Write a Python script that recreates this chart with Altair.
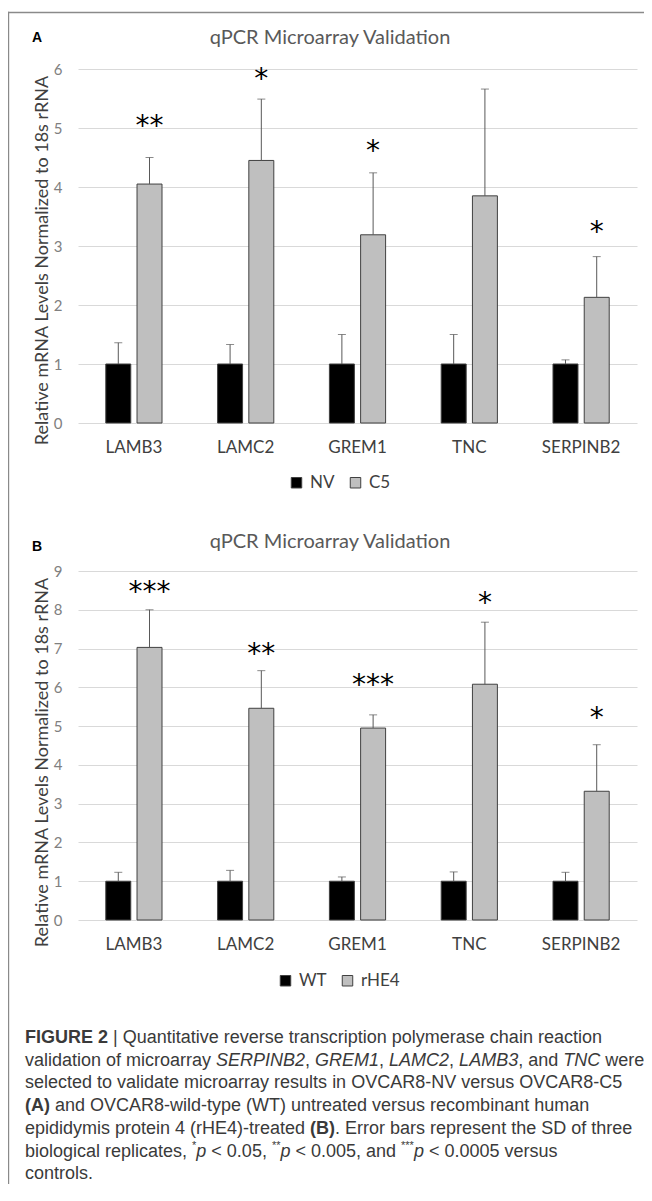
import altair as alt
import pandas as pd

# ---------------- data ----------------
categories = ["LAMB3", "LAMC2", "GREM1", "TNC", "SERPINB2"]

a_groups = ["NV", "C5"]
a_nv = [1.0, 1.0, 1.0, 1.0, 1.0]
a_nv_err = [0.36, 0.33, 0.50, 0.50, 0.07]
a_c5 = [4.05, 4.45, 3.19, 3.85, 2.13]
a_c5_err = [0.45, 1.04, 1.05, 1.81, 0.69]
a_stars = ["**", "*", "*", "", "*"]
a_star_y = [5.14, 5.93, 4.71, 0, 3.34]
a_ticks = [0, 1, 2, 3, 4, 5, 6]

b_groups = ["WT", "rHE4"]
b_wt = [1.0, 1.0, 1.0, 1.0, 1.0]
b_wt_err = [0.23, 0.28, 0.11, 0.24, 0.23]
b_rhe4 = [7.03, 5.46, 4.95, 6.08, 3.32]
b_rhe4_err = [0.97, 0.97, 0.34, 1.60, 1.20]
b_stars = ["***", "**", "***", "*", "*"]
b_star_y = [8.62, 7.02, 6.22, 8.32, 5.36]
b_ticks = [0, 1, 2, 3, 4, 5, 6, 7, 8, 9]

title_text = "qPCR Microarray Validation"
y_title = "Relative mRNA Levels Normalized to 18s rRNA"

caption_lines = [
    [("FIGURE 2", "b"), (" | Quantitative reverse transcription polymerase chain reaction", "n")],
    [("validation of microarray ", "n"), ("SERPINB2", "i"), (", ", "n"), ("GREM1", "i"), (", ", "n"),
     ("LAMC2", "i"), (", ", "n"), ("LAMB3", "i"), (", and ", "n"), ("TNC", "i"), (" were", "n")],
    [("selected to validate microarray results in OVCAR8-NV versus OVCAR8-C5", "n")],
    [("(A)", "b"), (" and OVCAR8-wild-type (WT) untreated versus recombinant human", "n")],
    [("epididymis protein 4 (rHE4)-treated ", "n"), ("(B)", "b"), (". Error bars represent the SD of three", "n")],
    [("biological replicates, ", "n"), ("*", "s"), ("p", "i"), (" < 0.05, ", "n"), ("**", "s"), ("p", "i"),
     (" < 0.005, and ", "n"), ("***", "s"), ("p", "i"), (" < 0.0005 versus", "n")],
    [("controls.", "n")],
]

# ---------------- text metrics (Arial/Liberation Sans widths, 1/1000 em) ----------------
REG = dict(zip("abcdefghijklmnopqrstuvwxyz",
               [556, 556, 500, 556, 556, 278, 556, 556, 222, 222, 500, 222, 833, 556, 556, 556, 556, 333, 500, 278, 556, 500, 722, 500, 500, 500]))
REG.update(zip("ABCDEFGHIJKLMNOPQRSTUVWXYZ",
               [667, 667, 722, 722, 667, 611, 778, 722, 278, 500, 667, 556, 833, 722, 778, 667, 778, 722, 667, 611, 722, 667, 944, 667, 667, 611]))
REG.update({c: 556 for c in "0123456789"})
REG.update({" ": 278, "(": 333, ")": 333, "*": 389, ",": 278, "-": 333, ".": 278, "<": 584, "|": 260})
BOLD = dict(REG)
BOLD.update(zip("ABCDEFGHIJKLMNOPQRSTUVWXYZ",
                [722, 722, 722, 722, 667, 611, 778, 722, 278, 556, 722, 611, 833, 722, 778, 667, 778, 722, 667, 611, 722, 667, 944, 667, 667, 611]))

CAP_SIZE = 18
SUP_SIZE = 11


def text_width(s, style):
    table = BOLD if style == "b" else REG
    size = SUP_SIZE if style == "s" else CAP_SIZE
    return sum(table.get(ch, 556) for ch in s) / 1000.0 * size


H = 1166
cap_rows = []
for li, segs in enumerate(caption_lines):
    cx = -53.0
    cy = 1030.0 + 22.7 * li
    for s, style in segs:
        lead = s[: len(s) - len(s.lstrip())]
        if s.strip():
            cap_rows.append(dict(px=cx + text_width(lead, style), py=cy, text=s.strip(), style=style))
        cx += text_width(s, style)
cap_df = pd.DataFrame(cap_rows)


def frames(groups, v0, e0, v1, e1, stars, star_y):
    rows = []
    for i, c in enumerate(categories):
        rows.append(dict(gene=c, series=groups[0], slot="0", value=v0[i], top=v0[i] + e0[i]))
        rows.append(dict(gene=c, series=groups[1], slot="1", value=v1[i], top=v1[i] + e1[i]))
    st = [dict(gene=c, slot="1", stars=s, sy=y) for c, s, y in zip(categories, stars, star_y) if s]
    return pd.DataFrame(rows), pd.DataFrame(st)


LABEL_FONT = "Lato"


def panel(df, st, groups, domain, yrange, ticks, x_axis_offset, legend_xy, title_y):
    xaxis = alt.Axis(orient="bottom", offset=x_axis_offset, title=None, labelAngle=0, ticks=False,
                     domain=False, grid=False, labelFont=LABEL_FONT, labelFontSize=17,
                     labelColor="#404040", labelPadding=24, labelBaseline="middle")
    yaxis = alt.Axis(orient="left", values=ticks, grid=True, gridColor="#d9d9d9", gridWidth=1,
                     domain=False, ticks=False, labelPadding=16, labelFont=LABEL_FONT,
                     labelFontSize=15, labelColor="#808080", title=y_title, titleFont=LABEL_FONT,
                     titleFontSize=18, titleFontWeight="normal", titleColor="#404040",
                     titleX=-36, titleY=title_y, titleBaseline="middle")
    xs = alt.Scale(domain=categories, paddingInner=0, paddingOuter=0)
    xos = alt.Scale(domain=["0", "1"], paddingInner=0.2, paddingOuter=0.89)
    ys = alt.Scale(domain=domain, range=yrange, nice=False, zero=False)
    X = alt.X("gene:N", scale=xs, sort=categories, axis=xaxis)
    XO = alt.XOffset("slot:N", scale=xos)

    bars = alt.Chart(df).mark_bar(stroke="#404040", strokeWidth=1).encode(
        x=X, xOffset=XO,
        y=alt.Y("value:Q", scale=ys, axis=yaxis),
        color=alt.Color("series:N", scale=alt.Scale(domain=groups, range=["#000000", "#bfbfbf"]),
                        sort=groups,
                        legend=alt.Legend(orient="none", legendX=legend_xy[0], legendY=legend_xy[1],
                                          direction="horizontal", title=None, symbolType="square",
                                          symbolSize=110, symbolStrokeColor="#404040",
                                          symbolStrokeWidth=1, labelFont=LABEL_FONT, labelFontSize=17,
                                          labelColor="#404040", columnPadding=12, labelOffset=5)),
    )
    err = alt.Chart(df).mark_rule(color="#595959", strokeWidth=1).encode(
        x=X, xOffset=XO,
        y=alt.Y("value:Q", scale=ys, axis=yaxis), y2="top:Q",
    )
    cap = alt.Chart(df).mark_tick(color="#595959", thickness=1, size=8).encode(
        x=X, xOffset=XO,
        y=alt.Y("top:Q", scale=ys, axis=yaxis),
    )
    star = alt.Chart(st).mark_text(font="DejaVu Sans", fontSize=28, color="#000000",
                                   baseline="alphabetic", dy=15, align="center").encode(
        x=X, xOffset=XO,
        y=alt.Y("sy:Q", scale=ys, axis=yaxis),
        text="stars:N",
    )
    return alt.layer(bars, err, cap, star)


a_df, a_st = frames(a_groups, a_nv, a_nv_err, a_c5, a_c5_err, a_stars, a_star_y)
b_df, b_st = frames(b_groups, b_wt, b_wt_err, b_rhe4, b_rhe4_err, b_stars, b_star_y)

panelA = panel(a_df, a_st, a_groups, [0, 6], [415, 61], a_ticks, 415 - H, [210, 466], 252)
panelB = panel(b_df, b_st, b_groups, [0, 9], [912, 563], b_ticks, 912 - H, [199, 964], 754)

# figure frame as thin filled rectangles (top edge and left edge)
frame_df = pd.DataFrame([
    dict(fx=-70.0, fx2=566.0, fy=3.8, fy2=5.2),
    dict(fx=-70.2, fx2=-68.8, fy=3.8, fy2=float(H + 10)),
])
frame = alt.Chart(frame_df).mark_rect(color="#8a8a8a", strokeWidth=0).encode(
    x=alt.X("fx:Q", scale=None), x2="fx2:Q",
    y=alt.Y("fy:Q", scale=None), y2="fy2:Q",
)

one = alt.Data(values=[{}])


def label(txt, x, y, **kw):
    return alt.Chart(one).mark_text(**kw).encode(x=alt.value(x), y=alt.value(y), text=alt.value(txt))


titleA = label(title_text, 252, 30, font=LABEL_FONT, fontSize=20, color="#595959", baseline="middle", align="center")
titleB = label(title_text, 252, 534, font=LABEL_FONT, fontSize=20, color="#595959", baseline="middle", align="center")
letterA = label("A", -41, 30, font="Liberation Sans", fontSize=14, fontWeight="bold", color="#000000", baseline="middle", align="center")
letterB = label("B", -41, 539, font="Liberation Sans", fontSize=14, fontWeight="bold", color="#000000", baseline="middle", align="center")


def cap_layer(style, **kw):
    d = cap_df[cap_df["style"] == style]
    return alt.Chart(d).mark_text(font="Liberation Sans", align="left", baseline="middle",
                                  color="#3a3a3a", **kw).encode(
        x=alt.X("px:Q", scale=None), y=alt.Y("py:Q", scale=None), text="text:N")


cap_n = cap_layer("n", fontSize=CAP_SIZE)
cap_b = cap_layer("b", fontSize=CAP_SIZE, fontWeight="bold")
cap_i = cap_layer("i", fontSize=CAP_SIZE, fontStyle="italic")
cap_s = cap_layer("s", fontSize=SUP_SIZE, dy=-6)

chart = alt.layer(
    frame, panelA, panelB, titleA, titleB, letterA, letterB,
    cap_n, cap_b, cap_i, cap_s,
).resolve_scale(
    x="independent", y="independent", color="independent"
).properties(
    width=559, height=H,
    padding={"left": 70, "top": 0, "right": 7, "bottom": 10},
    autosize=alt.AutoSizeParams(type="none"),
).configure_view(strokeWidth=0, stroke="transparent")

chart.save("out.html", embed_options={"renderer": "svg", "actions": False})
